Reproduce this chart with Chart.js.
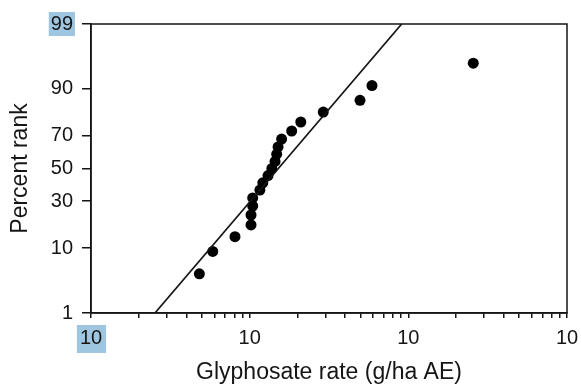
<!DOCTYPE html>
<html>
<head>
<meta charset="utf-8">
<script src="https://cdn.jsdelivr.net/npm/chart.js@4"></script>
<style>
  html, body { margin: 0; padding: 0; background: #fff; }
  #wrap { width: 581px; height: 386px; }
</style>
</head>
<body>
<div id="wrap"><canvas id="grafico"></canvas></div>
<script>
// dados
const rates = [4.82, 5.85, 8.08, 10.2, 10.2, 10.45, 10.45, 11.6, 12.1, 13.05, 13.8,
               14.45, 14.8, 15.1, 15.9, 18.4, 21.0, 29.1, 49.6, 59.0, 256.6];
const percentRank = [4.5, 9.1, 13.6, 18.2, 22.7, 27.3, 31.8, 36.4, 40.9, 45.5, 50.0,
                     54.5, 59.1, 63.6, 68.2, 72.7, 77.3, 81.8, 86.4, 90.9, 95.5];
// reta ajustada (log-normal)
const fitRates = [2.53, 90.8];
const fitPercent = [1, 99];
// eixos
const yTickPercents = [1, 10, 30, 50, 70, 90, 99];
const xMin = 1, xMax = 1000;
const xTickLabel = '10';

// inversa da normal (Acklam)
function probit(p) {
    const a = [-3.969683028665376e+01, 2.209460984245205e+02, -2.759285104469687e+02,
               1.383577518672690e+02, -3.066479806614716e+01, 2.506628277459239e+00];
    const b = [-5.447609879822406e+01, 1.615858368580409e+02, -1.556989798598866e+02,
               6.680131188771972e+01, -1.328068155288572e+01];
    const c = [-7.784894002430293e-03, -3.223964580411365e-01, -2.400758277161838e+00,
               -2.549732539343734e+00, 4.374664141464968e+00, 2.938163982698783e+00];
    const d = [7.784695709041462e-03, 3.224671290700398e-01, 2.445134137142996e+00,
               3.754408661907416e+00];
    const pl = 0.02425;
    let q, r;
    if (p < pl) {
        q = Math.sqrt(-2 * Math.log(p));
        return (((((c[0]*q+c[1])*q+c[2])*q+c[3])*q+c[4])*q+c[5]) /
               ((((d[0]*q+d[1])*q+d[2])*q+d[3])*q+1);
    }
    if (p > 1 - pl) {
        q = Math.sqrt(-2 * Math.log(1 - p));
        return -(((((c[0]*q+c[1])*q+c[2])*q+c[3])*q+c[4])*q+c[5]) /
                ((((d[0]*q+d[1])*q+d[2])*q+d[3])*q+1);
    }
    q = p - 0.5;
    r = q * q;
    return (((((a[0]*r+a[1])*r+a[2])*r+a[3])*r+a[4])*r+a[5])*q /
           (((((b[0]*r+b[1])*r+b[2])*r+b[3])*r+b[4])*r+1);
}

const zMin = probit(fitPercent[0] / 100);
const zMax = probit(fitPercent[1] / 100);
const ink = '#151515';
const highlight = '#9fc6e0';
const fontFam = '"Liberation Sans", Arial, sans-serif';

// caixa em volta da área do gráfico + destaque azul de "99" e do primeiro "10"
const molduraPlugin = {
    id: 'moldura',
    beforeDraw(chart) {
        const ctx = chart.ctx;
        const ys = chart.scales.y, xs = chart.scales.x;
        ctx.save();
        ctx.fillStyle = highlight;
        ctx.font = '20px ' + fontFam;
        const topY = ys.getPixelForValue(zMax);
        const w99 = ctx.measureText('99').width;
        ctx.fillRect(ys.right - 18 - w99 - 2, topY - 12, w99 + 4, 24);
        const leftX = xs.getPixelForValue(xMin);
        const w10 = ctx.measureText(xTickLabel).width;
        ctx.fillRect(leftX - w10 / 2 - 3, xs.top + 12, w10 + 7, 28);
        ctx.restore();
    },
    afterDraw(chart) {
        const a = chart.chartArea;
        const ctx = chart.ctx;
        ctx.save();
        ctx.strokeStyle = ink;
        ctx.lineWidth = 1.5;
        ctx.strokeRect(a.left, a.top, a.right - a.left, a.bottom - a.top);
        ctx.restore();
    }
};

document.addEventListener('DOMContentLoaded', function() {
    new Chart(document.getElementById('grafico'), {
        type: 'scatter',
        data: {
            datasets: [{
                label: 'Ajuste',
                type: 'line',
                data: fitRates.map((r, i) => ({x: r, y: probit(fitPercent[i] / 100)})),
                borderColor: ink,
                borderWidth: 1.7,
                pointRadius: 0,
                fill: false,
            }, {
                label: 'Populações',
                data: rates.map((r, i) => ({x: r, y: probit(percentRank[i] / 100)})),
                backgroundColor: '#000',
                borderWidth: 0,
                pointRadius: 5.5,
            }]
        },
        options: {
            responsive: true,
            maintainAspectRatio: false,
            animation: false,
            events: [],
            layout: { padding: { top: 24, right: 14, left: 0, bottom: 0 } },
            plugins: { legend: { display: false }, tooltip: { enabled: false } },
            scales: {
                x: {
                    type: 'logarithmic',
                    min: xMin,
                    max: xMax,
                    afterBuildTicks(scale) {
                        const ticks = [];
                        for (let d = xMin; d < xMax; d *= 10) {
                            for (let k = 1; k < 10; k++) ticks.push({value: k * d, major: k === 1});
                        }
                        ticks.push({value: xMax, major: true});
                        scale.ticks = ticks;
                    },
                    afterFit(scale) {
                        scale.height = 73;
                        scale.paddingLeft = 0;
                        scale.paddingRight = 0;
                    },
                    grid: { drawOnChartArea: false, tickLength: 5, color: ink, lineWidth: 1.5 },
                    border: { color: ink, width: 1.5 },
                    ticks: {
                        autoSkip: false,
                        maxRotation: 0,
                        padding: 8,
                        color: ink,
                        font: { family: fontFam, size: 20 },
                        callback: function(value) {
                            const l = Math.log10(value);
                            return Math.abs(l - Math.round(l)) < 1e-9 ? xTickLabel : '';
                        }
                    },
                    title: {
                        display: true,
                        text: 'Glyphosate rate (g/ha AE)',
                        color: ink,
                        font: { family: fontFam, size: 23 },
                        padding: { top: 0, bottom: 0 }
                    }
                },
                y: {
                    type: 'linear',
                    min: zMin,
                    max: zMax,
                    afterBuildTicks(scale) {
                        scale.ticks = yTickPercents.map(p => ({value: probit(p / 100)}));
                    },
                    afterFit(scale) {
                        scale.width = 91;
                        scale.paddingTop = 0;
                        scale.paddingBottom = 0;
                    },
                    grid: { drawOnChartArea: false, tickLength: 9, color: ink, lineWidth: 1.5 },
                    border: { color: ink, width: 1.5 },
                    ticks: {
                        padding: 9,
                        color: ink,
                        font: { family: fontFam, size: 20 },
                        callback: function(value, index) { return String(yTickPercents[index]); }
                    },
                    title: {
                        display: true,
                        text: 'Percent rank',
                        color: ink,
                        font: { family: fontFam, size: 23 },
                        padding: { top: 7, bottom: 0 }
                    }
                }
            }
        },
        plugins: [molduraPlugin]
    });
});
</script>
</body>
</html>
